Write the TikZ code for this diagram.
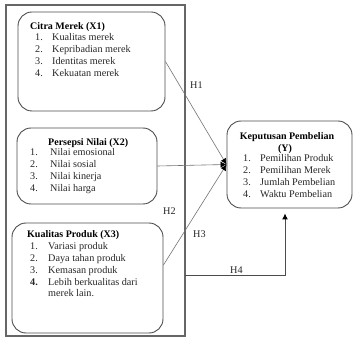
\documentclass[tikz,border=0pt]{standalone}
\usepackage{fontspec}
\setmainfont{Liberation Serif}
\usetikzlibrary{arrows.meta}

\tikzset{
  box/.style={draw=black!70, line width=0.9pt, rounded corners=14pt, inner sep=0pt},
  head/.style={anchor=base west, inner sep=0pt, font=\bfseries},
  items/.style={anchor=base west, inner sep=0pt, text=black!85},
  link/.style={draw=black!55, line width=0.6pt, -{Latex[length=6pt,width=6pt,black]}},
  hlabel/.style={anchor=base west, inner sep=0pt, text=black!85},
}

\begin{document}
\begin{tikzpicture}[x=1pt, y=-1pt, font=\fontsize{10.2}{11.7}\selectfont]
        \useasboundingbox (0,0) rectangle (359,339);
        % frame round the three variables
        \node[draw=black!60, line width=1.2pt, minimum width=179pt, minimum height=331pt, inner sep=0pt] (frame) at (95.5,170.5) {};
        % X1
        \node[box, minimum width=147pt, minimum height=99pt] (x1) at (91.5,61.5) {};
        \node[head] (x1h) at (30,30) {Citra Merek (X1)};
        \node[items] (x1l) at (35,41) {\begin{tabular}[t]{@{}p{17pt}@{}l@{}}
          1. & Kualitas merek\\ 2. & Kepribadian merek\\ 3. & Identitas merek\\ 4. & Kekuatan merek
        \end{tabular}};
        % X2
        \node[box, minimum width=140pt, minimum height=76pt] (x2) at (87,166) {};
        \node[head] (x2h) at (48,146) {Persepsi Nilai (X2)};
        \node[items] (x2l) at (30,156) {\begin{tabular}[t]{@{}p{20pt}@{}l@{}}
          1. & Nilai emosional\\ 2. & Nilai sosial\\ 3. & Nilai kinerja\\ 4. & Nilai harga
        \end{tabular}};
        % X3
        \node[box, minimum width=151pt, minimum height=110pt] (x3) at (87.5,278) {};
        \node[head] (x3h) at (27,238) {Kualitas Produk (X3)};
        \node[items] (x3l) at (30,250) {\begin{tabular}[t]{@{}p{18pt}@{}l@{}}
          1. & Variasi produk\\ 2. & Daya tahan produk\\ 3. & Kemasan produk\\ \textbf{4.} & Lebih berkualitas dari\\ & merek lain.
        \end{tabular}};
        % Y
        \node[box, minimum width=125pt, minimum height=87pt] (y) at (289.5,164.5) {};
        \node[head, anchor=base] (yh) at (287,140) {Keputusan Pembelian};
        \node[head, anchor=base] (yh2) at (285,152) {(Y)};
        \node[items] (yl) at (243,162) {\begin{tabular}[t]{@{}p{17pt}@{}l@{}}
          1. & Pemilihan Produk\\ 2. & Pemilihan Merek\\ 3. & Jumlah Pembelian\\ 4. & Waktu Pembelian
        \end{tabular}};
        % hypotheses
        \draw[link] (x1.east) -- (y.west);
        \draw[link] (x2.east) -- (y.west);
        \draw[link] ([yshift=13pt]x3.east) -- (y.west);
        \coordinate (h4) at (185,275);
        \draw[link, draw=black!70, line width=0.9pt, shorten >=5pt] (h4) -| ([xshift=-4.5pt]y.south);
        \node[hlabel] (h1l) at (190,89) {H1};
        \node[hlabel] (h2l) at (163,215) {H2};
        \node[hlabel] (h3l) at (193,238) {H3};
        \node[hlabel] (h4l) at (230,274) {H4};
    \end{tikzpicture}
\end{document}
